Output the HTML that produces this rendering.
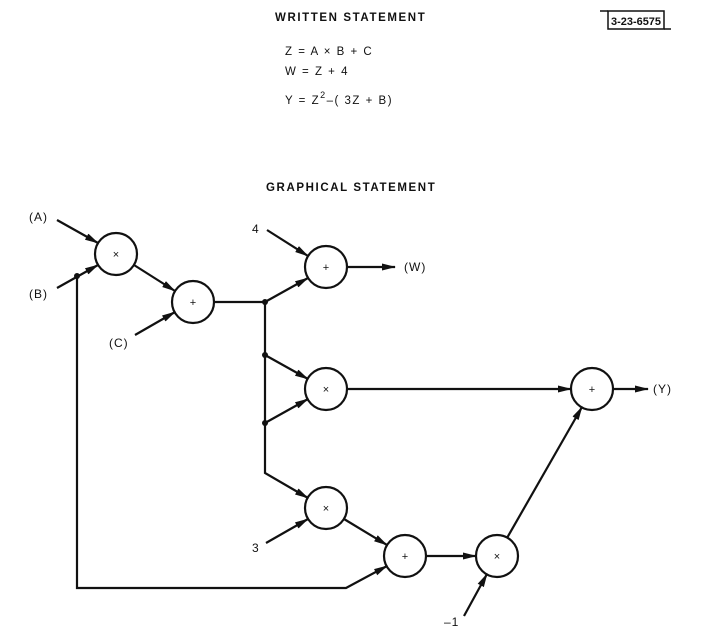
<!DOCTYPE html>
<html><head><style>
html,body{margin:0;padding:0;background:#fff;}
svg{display:block;}
text{font-family:"Liberation Sans",sans-serif;fill:#111;}
</style></head><body>
<svg width="715" height="632" viewBox="0 0 715 632" xmlns="http://www.w3.org/2000/svg">
<defs><marker id="a" markerWidth="14" markerHeight="8" refX="13" refY="4" orient="auto" markerUnits="userSpaceOnUse"><path d="M0,0.5 L14,4 L0,7.5 Z" fill="#111"/></marker></defs>
<text x="275" y="21" font-size="11.5" letter-spacing="1.6" font-weight="bold">WRITTEN STATEMENT</text>
<text x="285" y="55" font-size="11.5" letter-spacing="1.5">Z  =  A × B + C</text>
<text x="285" y="75" font-size="11.5" letter-spacing="1.5">W  =  Z + 4</text>
<text x="285" y="104" font-size="11.5" letter-spacing="1.5">Y  =  Z<tspan dy="-6" font-size="9">2</tspan><tspan dy="6">–( 3Z + B)</tspan></text>
<rect x="608" y="11" width="56" height="18" fill="none" stroke="#111" stroke-width="1.5"/>
<line x1="600" y1="11" x2="608" y2="11" stroke="#111" stroke-width="1.5"/>
<line x1="664" y1="29" x2="671" y2="29" stroke="#111" stroke-width="1.5"/>
<text x="611" y="25" font-size="11" font-weight="bold" textLength="50" lengthAdjust="spacingAndGlyphs">3-23-6575</text>
<text x="266" y="191" font-size="11.5" letter-spacing="1.6" font-weight="bold">GRAPHICAL STATEMENT</text>
<g stroke="#111" stroke-width="2.2" fill="none">
<circle cx="116" cy="254" r="21"/><circle cx="193" cy="302" r="21"/>
<circle cx="326" cy="267" r="21"/><circle cx="326" cy="389" r="21"/>
<circle cx="326" cy="508" r="21"/><circle cx="405" cy="556" r="21"/>
<circle cx="497" cy="556" r="21"/><circle cx="592" cy="389" r="21"/>
<line x1="57" y1="220" x2="98" y2="243" marker-end="url(#a)"/>
<line x1="57" y1="288" x2="98" y2="265" marker-end="url(#a)"/>
<line x1="134" y1="265" x2="175" y2="291" marker-end="url(#a)"/>
<line x1="135" y1="335" x2="175" y2="312" marker-end="url(#a)"/>
<line x1="214" y1="302" x2="265" y2="302"/>
<line x1="265" y1="302" x2="308" y2="278" marker-end="url(#a)"/>
<line x1="267" y1="230" x2="308" y2="256" marker-end="url(#a)"/>
<line x1="347" y1="267" x2="395" y2="267" marker-end="url(#a)"/>
<polyline points="265,302 265,473 308,498" marker-end="url(#a)"/>
<line x1="265" y1="355" x2="308" y2="379" marker-end="url(#a)"/>
<line x1="265" y1="423" x2="308" y2="399" marker-end="url(#a)"/>
<line x1="347" y1="389" x2="571" y2="389" marker-end="url(#a)"/>
<line x1="613" y1="389" x2="648" y2="389" marker-end="url(#a)"/>
<line x1="266" y1="543" x2="308" y2="519" marker-end="url(#a)"/>
<line x1="344" y1="519" x2="387" y2="545" marker-end="url(#a)"/>
<polyline points="77,276 77,588 346,588 387,566" marker-end="url(#a)"/>
<line x1="426" y1="556" x2="476" y2="556" marker-end="url(#a)"/>
<line x1="464" y1="616" x2="487" y2="574" marker-end="url(#a)"/>
<line x1="507" y1="538" x2="582" y2="407" marker-end="url(#a)"/>
</g>
<g fill="#111"><circle cx="77" cy="276" r="3"/><circle cx="265" cy="302" r="3"/><circle cx="265" cy="355" r="3"/><circle cx="265" cy="423" r="3"/></g>
<g font-size="11" text-anchor="middle">
<text x="116" y="258">×</text><text x="193" y="306">+</text><text x="326" y="271">+</text>
<text x="326" y="393">×</text><text x="326" y="512">×</text><text x="405" y="560">+</text>
<text x="497" y="560">×</text><text x="592" y="393">+</text>
</g>
<g font-size="12" letter-spacing="1">
<text x="29" y="221">(A)</text><text x="29" y="298">(B)</text><text x="109" y="347">(C)</text>
<text x="252" y="233">4</text><text x="404" y="271">(W)</text><text x="653" y="393">(Y)</text>
<text x="252" y="552">3</text><text x="444" y="626">–1</text>
</g>
</svg>
</body></html>
